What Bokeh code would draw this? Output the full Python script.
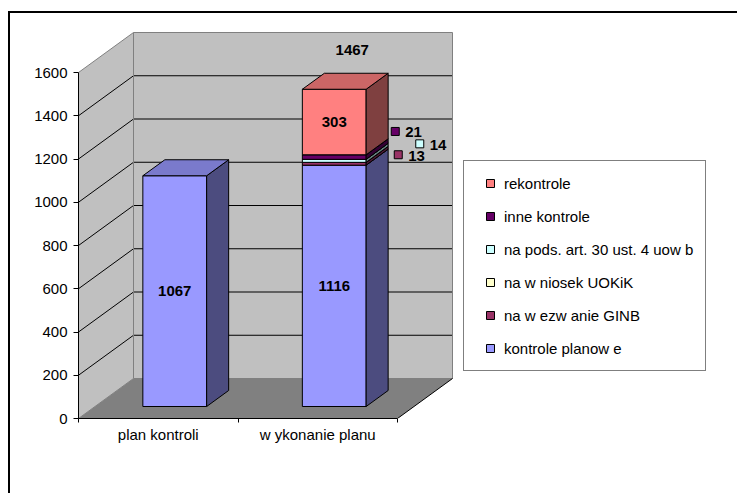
from bokeh.plotting import figure
from bokeh.models import Range1d, FixedTicker, Legend, LegendItem, LinearAxis
from bokeh.core.properties import value
from bokeh.embed import file_html
from bokeh.resources import INLINE

# ---------------- data ----------------
categories = ["plan kontroli", "w ykonanie planu"]
series_names = ["kontrole planow e", "na w ezw anie GINB", "na w niosek UOKiK",
                "na pods. art. 30 ust. 4 uow b", "inne kontrole", "rekontrole"]
kontrole_planowe = [1067, 1116]
na_wezwanie_ginb = [0, 13]
na_wniosek_uokik = [0, 0]
na_pods_art30 = [0, 14]
inne_kontrole = [0, 21]
rekontrole = [0, 303]
y_ticks = [0, 200, 400, 600, 800, 1000, 1200, 1400, 1600]

series_values = [kontrole_planowe, na_wezwanie_ginb, na_wniosek_uokik,
                 na_pods_art30, inne_kontrole, rekontrole]

# ---------------- styles ----------------
series_colors = ["#9999FF", "#993366", "#FFFFCC", "#CCFFFF", "#660066", "#FF8080"]
FONT = "Liberation Sans"
PX_PER_CAT = 159.5          # pixels per category
PX_PER_VAL = 346 / 1600     # pixels per value unit
FRAME_W, FRAME_H = 659, 405
DX = 55 / PX_PER_CAT        # depth offset (category units)
DY = 40 / PX_PER_VAL        # depth offset (value units)
BAR_W = 0.4
D0, D1 = 0.3, 0.7
# outside labels with legend key: series index -> (dx px, dy px up) of key from segment centre
outside_offsets = {1: (64, 9), 3: (85.5, 17), 4: (61, 25.6)}
total_offset = (18, 39)


def shade(hex_color, f):
    h = hex_color.lstrip("#")
    r, g, b = (int(h[k:k + 2], 16) for k in (0, 2, 4))
    return "#%02X%02X%02X" % (int(r * f), int(g * f), int(b * f))


n = len(categories)
y_max = y_ticks[-1]
nan = float("nan")

p = figure(frame_width=FRAME_W, frame_height=FRAME_H,
           x_range=Range1d(0, FRAME_W / PX_PER_CAT),
           y_range=Range1d(0, FRAME_H / PX_PER_VAL),
           x_axis_type=None, y_axis_type=None,
           output_backend="svg", toolbar_location=None,
           min_border_left=68, min_border_right=0, min_border_top=0, min_border_bottom=75)
p.outline_line_color = None
p.background_fill_color = "white"
p.border_fill_color = "white"
p.styles = {"margin-top": "11px", "margin-left": "8px",
            "border-left": "2px solid black", "border-top": "2px solid black"}

# walls and floor
p.patch([0, 0, DX, DX], [0, y_max, y_max + DY, DY], fill_color="#C0C0C0", line_color=None)
p.patch([DX, n + DX, n + DX, DX], [DY, DY, y_max + DY, y_max + DY], fill_color="#C0C0C0", line_color=None)
p.patch([0, n, n + DX, DX], [0, 0, DY, DY], fill_color="#808080", line_color=None)

# gridlines
gxs, gys = [], []
for v in y_ticks[1:-1]:
    gxs.append([0, DX, n + DX])
    gys.append([v, v + DY, v + DY])
p.multi_line(gxs, gys, line_color="black", line_width=1)

# wall edges (gray)
exs = [[0, DX, n + DX, n + DX], [DX, DX], [0, DX, n + DX]]
eys = [[y_max, y_max + DY, y_max + DY, DY], [DY, y_max + DY], [0, DY, DY]]
p.multi_line(exs, eys, line_color="#808080", line_width=1)
# floor right edge (black)
p.line([n, n + DX], [0, DY], line_color="black", line_width=1)

# bars
cum = [0] * n
ddx, ddy = (D1 - D0) * DX, (D1 - D0) * DY
lab_x, lab_y, lab_t = [], [], []
key_x, key_y, key_c = [], [], []
okey_tx, okey_ty, okey_t = [], [], []
proxies = []
for j, vals in enumerate(series_values):
    col = series_colors[j]
    fx, fy, sx, sy, tx, ty = [], [], [], [], [], []
    for i in range(n):
        v = vals[i]
        b = cum[i]
        t = b + v
        cum[i] = t
        if v <= 0:
            continue
        c = i + 0.5
        xl = c - BAR_W / 2 + D0 * DX
        xr = xl + BAR_W
        yb = b + D0 * DY
        yt = t + D0 * DY
        fx.append([xl, xr, xr, xl]); fy.append([yb, yb, yt, yt])
        sx.append([xr, xr + ddx, xr + ddx, xr]); sy.append([yb, yb + ddy, yt + ddy, yt])
        tx.append([xl, xr, xr + ddx, xl + ddx]); ty.append([yt, yt, yt + ddy, yt + ddy])
        cx = c + D0 * DX
        cy = b + v / 2 + D0 * DY
        if j in outside_offsets:
            ox, oy = outside_offsets[j]
            kx = cx + ox / PX_PER_CAT
            ky = cy + oy / PX_PER_VAL
            key_x.append(kx); key_y.append(ky); key_c.append(col)
            okey_tx.append(kx + 10 / PX_PER_CAT); okey_ty.append(ky - 1 / PX_PER_VAL)
            okey_t.append(str(v))
        else:
            lab_x.append(cx); lab_y.append(cy); lab_t.append(str(v))
    lw = 1
    p.patches(fx, fy, fill_color=col, line_color="black", line_width=lw)
    p.patches(sx, sy, fill_color=shade(col, 0.5), line_color="black", line_width=lw)
    p.patches(tx, ty, fill_color=shade(col, 0.8), line_color="black", line_width=lw)
    # legend key proxy (not drawn in the plot area: NaN position)
    proxies.append(p.scatter(x=[nan], y=[nan], marker="square", size=8,
                             fill_color=col, line_color="black", line_width=1))

# totals
for i in range(n):
    nonzero = sum(1 for vals in series_values if vals[i] > 0)
    if nonzero > 1:
        tot = sum(vals[i] for vals in series_values)
        lab_x.append(i + 0.5 + D0 * DX + total_offset[0] / PX_PER_CAT)
        lab_y.append(tot + D0 * DY + total_offset[1] / PX_PER_VAL)
        lab_t.append(str(tot))

txt_kw = dict(text_font=value(FONT), text_font_style="bold", text_font_size="15px", text_color="black")
p.text(x=lab_x, y=lab_y, text=lab_t, text_align="center", text_baseline="middle", **txt_kw)
p.scatter(x=key_x, y=key_y, marker="square", size=8, fill_color=key_c, line_color="black", line_width=1)
p.text(x=okey_tx, y=okey_ty, text=okey_t, text_align="left", text_baseline="middle", **txt_kw)

# axes
yaxis = LinearAxis(ticker=FixedTicker(ticks=y_ticks), bounds=(0, y_max),
                   major_tick_out=5, major_tick_in=0, minor_tick_out=0, minor_tick_in=0,
                   major_label_standoff=6, axis_line_color="black", major_tick_line_color="black",
                   major_label_text_font=FONT, major_label_text_font_size="15px",
                   major_label_text_color="black")
p.add_layout(yaxis, "left")

cat_ticks = [i + 0.5 for i in range(n)]
xaxis = LinearAxis(ticker=FixedTicker(ticks=cat_ticks, minor_ticks=list(range(n + 1))),
                   bounds=(0, n), major_tick_out=0, major_tick_in=0, minor_tick_out=4, minor_tick_in=0,
                   minor_tick_line_color="black", axis_line_color="black",
                   major_label_overrides={t: c for t, c in zip(cat_ticks, categories)},
                   major_label_standoff=3, major_label_text_font=FONT,
                   major_label_text_font_size="15px", major_label_text_color="black")
p.add_layout(xaxis, "below")

# legend
items = [LegendItem(label=series_names[j], renderers=[proxies[j]], index=0)
         for j in reversed(range(len(series_names)))]
legend = Legend(items=items, location=(385, 47), padding=12, spacing=13, margin=0,
                glyph_width=28, glyph_height=20, label_height=20, label_standoff=0,
                label_text_font=FONT, label_text_font_size="15px", label_text_color="black",
                border_line_color="black", border_line_width=1,
                background_fill_color="white", background_fill_alpha=1)
p.add_layout(legend)

open("out.html", "w").write(file_html(p, INLINE))
